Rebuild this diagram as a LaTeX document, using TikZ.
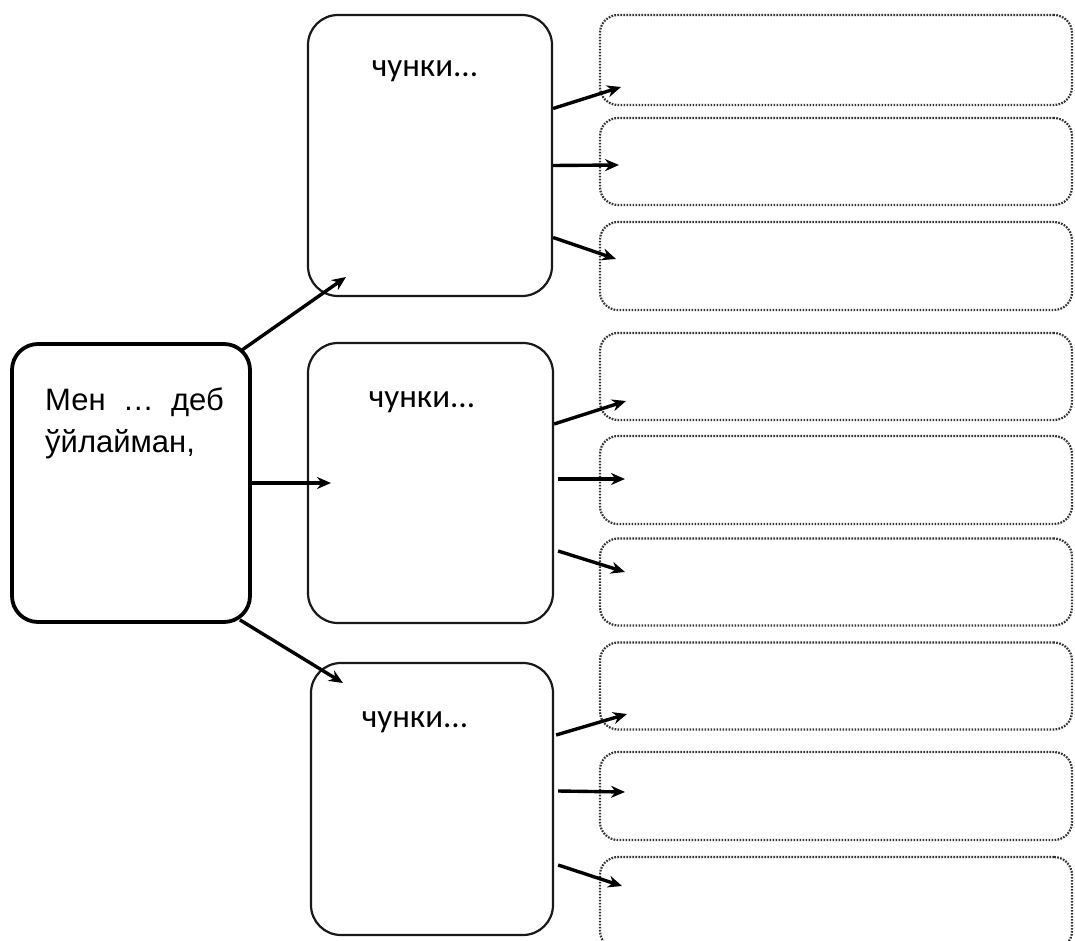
\documentclass[tikz,border=0pt]{standalone}
\usepackage{fontspec}
\setmainfont{Liberation Sans}
\newfontfamily\cfont{Carlito}
\usetikzlibrary{arrows.meta}
\begin{document}
\begin{tikzpicture}[x=1pt,y=-1pt,
  mainbox/.style={draw=black,line width=3.8pt,rounded corners=26pt,minimum width=238pt,minimum height=278pt,inner sep=0pt},
  midbox/.style={draw=black!90,line width=2.2pt,rounded corners=30pt,inner sep=0pt},
  dotbox/.style={draw=black!80,line width=2.2pt,dash pattern=on 1.7pt off 1.3pt,rounded corners=18pt,minimum width=472pt,inner sep=0pt},
  arr/.style={draw=black,line width=3.4pt,-{Stealth[length=14pt,width=12pt]}},
  lbl/.style={font=\cfont\fontsize{33}{36}\selectfont,anchor=base,inner sep=0pt}]
\useasboundingbox (0,0) rectangle (1075,941);
\fill[white] (0,0) rectangle (1075,941);
% left box
\node[mainbox] (L) at (131,483) {};
\node[anchor=base west,align=left,inner sep=0pt,font=\fontsize{31}{42}\selectfont] (Lt) at (45,452) {Мен~~…~~деб\\ўйлайман,};
% middle boxes
\node[midbox,minimum width=244pt,minimum height=281pt] (m1) at (430,155.5) {};
\node[midbox,minimum width=245pt,minimum height=280pt] (m2) at (430.5,483) {};
\node[midbox,minimum width=242pt,minimum height=272pt] (m3) at (432,799) {};
\node[lbl] (t1) at (425,77) {чунки...};
\node[lbl] (t2) at (422,407) {чунки...};
\node[lbl] (t3) at (415,727) {чунки...};
% dotted boxes
\node[dotbox,minimum height=90pt] (d1) at (836,60) {};
\node[dotbox,minimum height=87pt] (d2) at (836,161.5) {};
\node[dotbox,minimum height=88pt] (d3) at (836,266) {};
\node[dotbox,minimum height=87pt] (d4) at (836,376.5) {};
\node[dotbox,minimum height=88pt] (d5) at (836,480) {};
\node[dotbox,minimum height=87pt] (d6) at (836,582) {};
\node[dotbox,minimum height=87pt] (d7) at (836,686) {};
\node[dotbox,minimum height=88pt] (d8) at (836,796) {};
\node[dotbox,minimum height=92pt] (d9) at (836,903) {};
% arrow end coordinates
\coordinate (e1) at (621,87);
\coordinate (e2) at (619,165);
\coordinate (e3) at (616,259);
\coordinate (e4) at (626,401);
\coordinate (e5) at (625,479);
\coordinate (e6) at (625,572);
\coordinate (e7) at (627,714);
\coordinate (e8) at (625,792);
\coordinate (e9) at (622,886);
\coordinate (em1) at (346,277);
\coordinate (em2) at (331,483);
\coordinate (em3) at (343,683);
% arrows from left box
\draw[arr] ([xshift=-10pt,yshift=-8pt]L.north east) -- (em1);
\draw[arr] (L.east) -- (em2);
\draw[arr] ([xshift=-12pt,yshift=4pt]L.south east) -- (em3);
% arrows from middle boxes
\draw[arr] ([yshift=47pt]m1.east) -- (e1);
\draw[arr] ([yshift=-10pt]m1.east) -- (e2);
\draw[arr] ([yshift=-82pt]m1.east) -- (e3);
\draw[arr] ([yshift=59pt]m2.east) -- (e4);
\draw[arr] ([xshift=4pt,yshift=4pt]m2.east) -- (e5);
\draw[arr] ([xshift=4pt,yshift=-68pt]m2.east) -- (e6);
\draw[arr] ([xshift=2pt,yshift=64pt]m3.east) -- (e7);
\draw[arr] ([xshift=4pt,yshift=8pt]m3.east) -- (e8);
\draw[arr] ([xshift=4pt,yshift=-66pt]m3.east) -- (e9);
\end{tikzpicture}
\end{document}
